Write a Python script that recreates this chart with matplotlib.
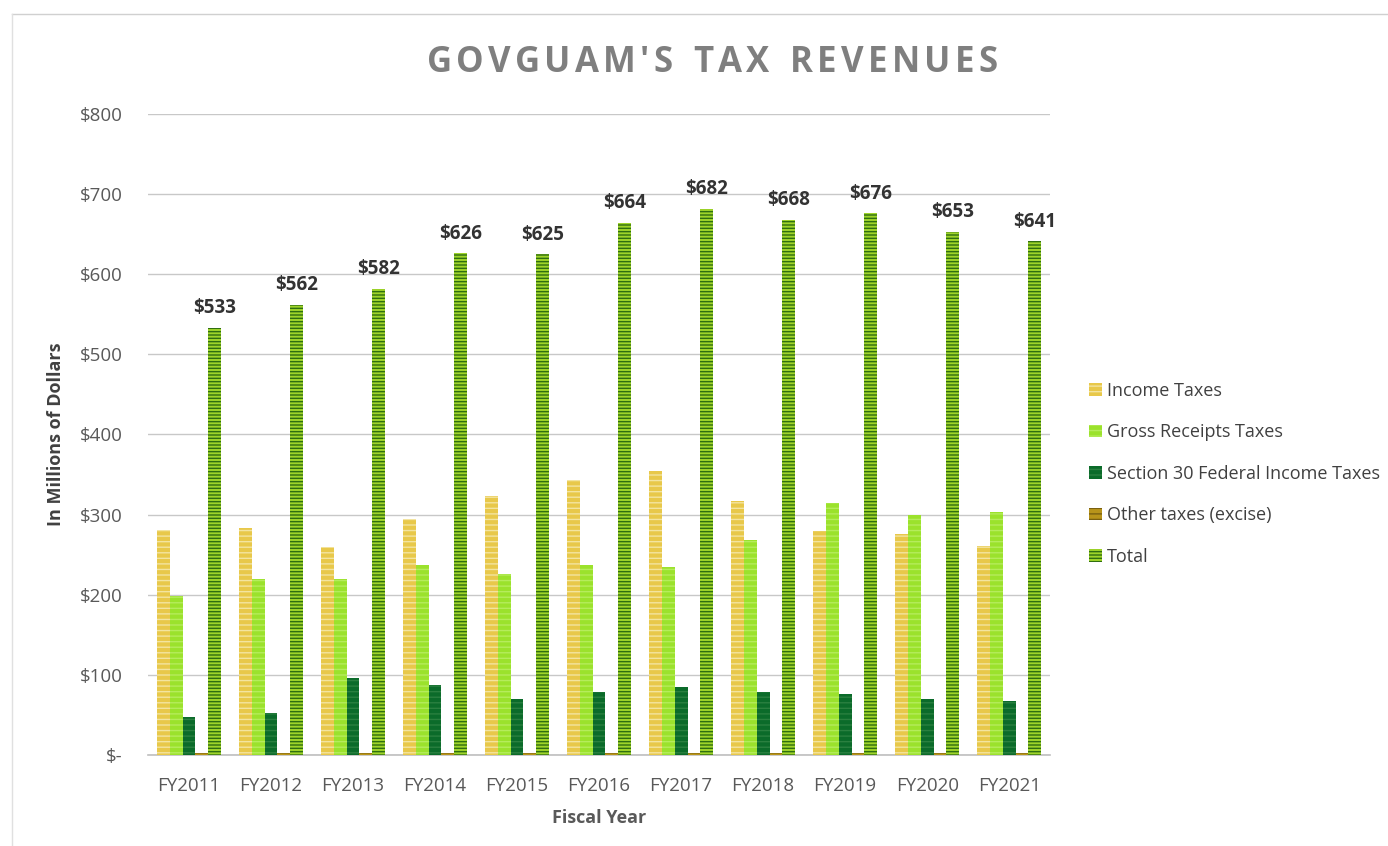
import matplotlib
matplotlib.use("Agg")
import matplotlib.pyplot as plt
import numpy as np
from matplotlib.patches import Patch

years = ["FY2011", "FY2012", "FY2013", "FY2014", "FY2015", "FY2016",
         "FY2017", "FY2018", "FY2019", "FY2020", "FY2021"]
income = [281, 283, 260, 295, 323, 343, 354, 317, 280, 276, 261]
gross_receipts = [199, 219, 219, 237, 226, 237, 235, 268, 315, 300, 303]
section30 = [47, 52, 96, 87, 70, 78, 85, 78, 76, 70, 67]
other = [3, 3, 3, 3, 3, 3, 3, 3, 3, 3, 3]
total = [533, 562, 582, 626, 625, 664, 682, 668, 676, 653, 641]
yticks = [0, 100, 200, 300, 400, 500, 600, 700, 800]
ytick_labels = ["$-", "$100", "$200", "$300", "$400", "$500", "$600", "$700", "$800"]
title = "GOVGUAM'S TAX REVENUES"

plt.rcParams['font.family'] = ['Open Sans', 'DejaVu Sans']
plt.rcParams['hatch.linewidth'] = 1.0

fig = plt.figure(figsize=(13.88, 8.46), dpi=100)
fig.patch.set_facecolor('white')
ax = fig.add_axes([0.1066, 0.1076, 0.650, 0.7577])

x = np.arange(len(years))
w = 0.157
series = [
    (income, "Income Taxes", '#e8c84a', '#f3e4a0', '---'),
    (gross_receipts, "Gross Receipts Taxes", '#9be22c', '#b5ec5c', '---'),
    (section30, "Section 30 Federal Income Taxes", '#0b6b2a', '#2a8040', '---'),
    (other, "Other taxes (excise)", '#b8941a', '#7a6010', '---'),
    (total, "Total", '#9fd42a', '#2f6e10', '-----'),
]
handles = []
for i, (vals, lab, fc, hc, h) in enumerate(series):
    ax.bar(x + (i - 2) * w, vals, width=w, color=fc, edgecolor=hc,
           linewidth=0, hatch=h, zorder=3)
    handles.append(Patch(facecolor=fc, edgecolor=hc, hatch=h, linewidth=0, label=lab))

for xi, t in zip(x, total):
    ax.text(xi + 2 * w, t + 12, f"${t}", ha='center', va='bottom',
            fontsize=13.5, fontweight='bold', color='#333333')

ax.set_xlim(-0.5, len(years) - 0.5)
ax.set_ylim(0, 800)
ax.set_yticks(yticks)
ax.set_yticklabels(ytick_labels)
ax.set_xticks(x)
ax.set_xticklabels(years)
ax.tick_params(axis='y', length=0, labelsize=13.5, labelcolor='#595959', pad=18)
ax.tick_params(axis='x', length=0, labelsize=13.5, labelcolor='#595959', pad=16)
ax.grid(axis='y', color='#c8c8c8', linewidth=1, zorder=0)
for s in ['top', 'right', 'left']:
    ax.spines[s].set_visible(False)
ax.spines['bottom'].set_color('#bfbfbf')
ax.spines['bottom'].set_linewidth(1.2)

ax.set_ylabel("In Millions of Dollars", fontsize=13, fontweight='bold',
              color='#404040', labelpad=11)
ax.set_xlabel("Fiscal Year", fontsize=13, fontweight='bold', color='#595959',
              labelpad=10)

# letter-spaced title
renderer = fig.canvas.get_renderer()
tracking = 4.2  # px
fs = 25
widths = []
for ch in title:
    t = fig.text(0, 0, ch if ch != ' ' else 'n', fontsize=fs, fontweight='bold')
    bb = t.get_window_extent(renderer)
    widths.append(bb.width * (0.55 if ch == ' ' else 1.0))
    t.remove()
total_w = sum(widths) + tracking * (len(title) - 1)
W, H = fig.bbox.width, fig.bbox.height
cx, cy = 712, 846 - 63
xpos = cx - total_w / 2
for ch, cw in zip(title, widths):
    if ch != ' ':
        fig.text(xpos / W, cy / H, ch, fontsize=fs, fontweight='bold',
                 color='#7f7f7f', ha='left', va='center')
    xpos += cw + tracking

leg = fig.legend(handles=handles, loc='center left', bbox_to_anchor=(0.773, 0.44),
                 frameon=False, fontsize=13, handlelength=0.7, handleheight=0.7,
                 handletextpad=0.3, labelspacing=1.3, labelcolor='#404040')

# light border like the reference frame
fig.add_artist(plt.Line2D([0.009, 1.0], [0.984, 0.984], color='#d0d0d0', lw=1,
                          transform=fig.transFigure))
fig.add_artist(plt.Line2D([0.009, 0.009], [0.0, 0.984], color='#e0e0e0', lw=1,
                          transform=fig.transFigure))

fig.savefig("out.png", dpi=100)
